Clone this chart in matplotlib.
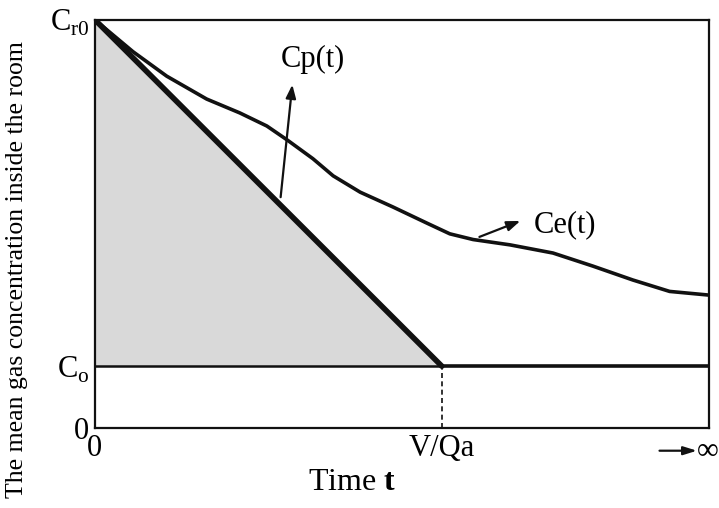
import numpy as np
import matplotlib.pyplot as plt

plt.rcParams['font.family'] = 'Liberation Serif'
plt.rcParams['mathtext.fontset'] = 'custom'
plt.rcParams['mathtext.rm'] = 'Liberation Serif'
plt.rcParams['mathtext.bf'] = 'Liberation Serif:bold'

# time axis scaled 0..1, concentration scaled so Cr0 = 1
t_vq = 0.565      # V/Qa
c0 = 0.152        # C0
cr0 = 1.0         # Cr0

# Ce(t) curve
ce_x = [0, 0.062, 0.117, 0.182, 0.236, 0.28, 0.313, 0.355, 0.388, 0.432, 0.485,
        0.541, 0.578, 0.616, 0.676, 0.746, 0.811, 0.876, 0.936, 1.0]
ce_y = [1.0, 0.922, 0.862, 0.806, 0.772, 0.740, 0.706, 0.660, 0.618, 0.578, 0.542,
        0.502, 0.476, 0.462, 0.449, 0.429, 0.397, 0.363, 0.335, 0.326]

fig = plt.figure(figsize=(7.19, 5.08), dpi=100)
ax = fig.add_axes([0.132, 0.157, 0.854, 0.804])

# shaded triangle under Cp(t)
ax.fill_between([0, t_vq], [cr0, c0], [c0, c0], color='#d9d9d9', lw=0)

# Cp(t) line and C0 level
ax.plot([0, t_vq], [cr0, c0], color='#111111', lw=4, solid_capstyle='round')
ax.plot([0, t_vq], [c0, c0], color='#111111', lw=1.8)
ax.plot([t_vq, 1], [c0, c0], color='#111111', lw=2.6)
ax.plot([t_vq, t_vq], [0, c0], color='#111111', lw=1.2, ls=(0, (3, 2)))

# Ce(t)
ax.plot(ce_x, ce_y, color='#111111', lw=2.6, solid_joinstyle='round')

# labels with arrows
ax.annotate('', xy=(0.322, 0.848), xytext=(0.302, 0.559),
            arrowprops=dict(arrowstyle='-|>,head_length=0.8,head_width=0.3',
                            color='#111111', lw=1.6))
ax.text(0.355, 0.902, 'Cp(t)', fontsize=22, ha='center', va='center')
ax.annotate('', xy=(0.697, 0.510), xytext=(0.622, 0.466),
            arrowprops=dict(arrowstyle='-|>,head_length=0.8,head_width=0.3',
                            color='#111111', lw=1.6))
ax.text(0.715, 0.498, 'Ce(t)', fontsize=22, ha='left', va='center')

ax.set_xlim(0, 1)
ax.set_ylim(0, 1)
ax.set_xticks([0, t_vq])
ax.set_xticklabels(['0', 'V/Qa'], fontsize=22)
ax.set_yticks([0, c0, cr0])
ax.set_yticklabels(['0', r'C$_{\rm o}$', r'C$_{\rm r0}$'], fontsize=22)
ax.tick_params(length=0, pad=4)
for s in ax.spines.values():
    s.set_linewidth(1.6)
    s.set_color('#111111')

# arrow to infinity below the axis
ax.annotate('', xy=(0.985, -0.055), xytext=(0.915, -0.055),
            xycoords='axes fraction',
            arrowprops=dict(arrowstyle='-|>,head_length=0.8,head_width=0.25',
                            color='#111111', lw=1.6), annotation_clip=False)
fig.text(0.999, 0.112, '∞', fontsize=22, ha='right', va='center')

fig.text(0.49, 0.05, r'Time $\mathbf{t}$', fontsize=23, ha='center', va='center')
fig.text(0.024, 0.47, 'The mean gas concentration inside the room', fontsize=18.5,
         rotation=90, ha='center', va='center')

fig.savefig('out.png', dpi=100)
